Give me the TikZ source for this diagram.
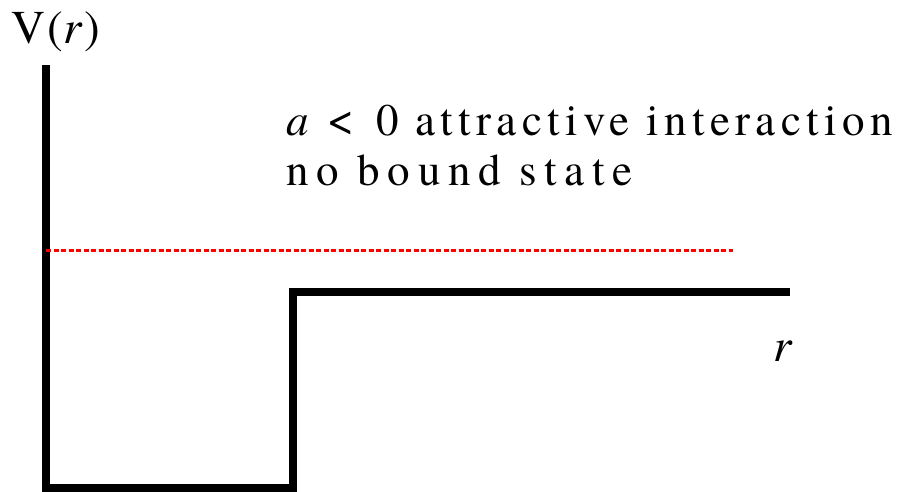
\documentclass[tikz,border=0pt]{standalone}
\usepackage{fontspec}
\setmainfont{TeX Gyre Termes}
\newfontfamily\spacedA[LetterSpace=12]{TeX Gyre Termes}
\newfontfamily\spacedB[LetterSpace=17]{TeX Gyre Termes}
\newfontfamily\spacedV[LetterSpace=5]{TeX Gyre Termes}
\begin{document}
\begin{tikzpicture}[x=1pt,y=-1pt,
  wall/.style={line width=7.5pt,line join=miter,black},
  level/.style={red,line width=3pt,dash pattern=on 5pt off 2.5pt},
  big/.style={inner sep=0pt,font=\fontsize{47}{52}\selectfont},
  lbl/.style={inner sep=0pt,font=\fontsize{45}{50}\selectfont}]
\useasboundingbox (0,0) rectangle (912,491);
\coordinate (top) at (46,65);
\coordinate (bl) at (46,488);
\coordinate (br) at (293,488);
\coordinate (st) at (293,292);
\coordinate (end) at (790,292);
\draw[wall] (top) -- (bl) -- (br) -- (st) -- (end);
\coordinate (l1) at (46,250);
\coordinate (l2) at (733,250);
\draw[level] (l1) -- (l2);
\node[big,anchor=base west] (V) at (11,43) {\spacedV V(\textit{r})};
\node[lbl,anchor=base west] (t1) at (286,135) {\spacedA\textit{a}\hspace{13pt}{\fontsize{48}{48}\selectfont <}\hspace{22pt}0 attractive interaction};
\node[lbl,anchor=base west] (t2) at (286,185) {\spacedB no bound state};
\node[big,anchor=base west] (r) at (773,361) {\textit{r}};
\end{tikzpicture}
\end{document}
